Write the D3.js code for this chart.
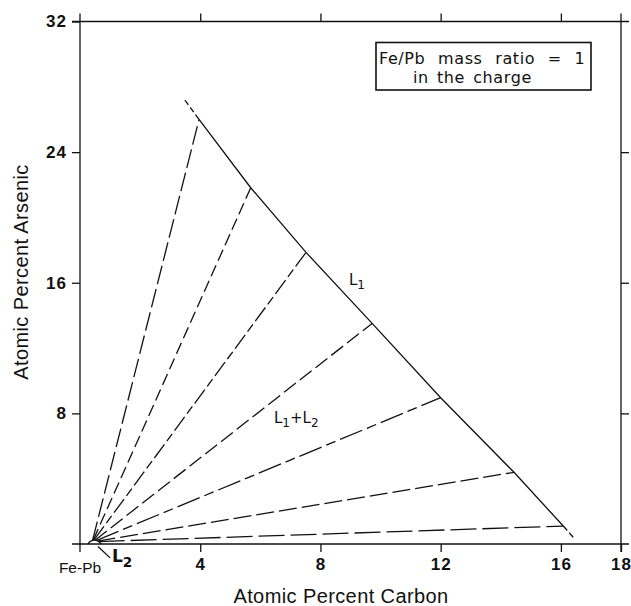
<!DOCTYPE html>
<meta charset="utf-8">
<script src="https://d3js.org/d3.v7.min.js"></script>
<style>
  body { margin: 0; background: #fff; }
  text { fill: #111; }
</style>
<div id="chart"></div>
<script>
  // L1 liquidus boundary (atomic % C, atomic % As)
  const liqCarbon = [3.49, 3.96, 5.68, 7.52, 9.72, 12.0, 14.44, 16.08, 16.41];
  const liqArsenic = [27.19, 26.0, 21.82, 17.86, 13.51, 8.96, 4.39, 1.10, 0.41];

  // small L2 region near the Fe-Pb corner
  const l2Carbon = [0.27, 0.32, 0.42, 0.55, 0.65, 0.71];
  const l2Arsenic = [0, 0.15, 0.24, 0.23, 0.13, 0];

  // tie lines: start on L2, end on L1 vertices
  const tieStartC = [0.42, 0.44, 0.46, 0.5, 0.54, 0.58, 0.62];
  const tieStartAs = [0.24, 0.24, 0.24, 0.23, 0.21, 0.18, 0.15];
  const tieEndC = [3.96, 5.68, 7.52, 9.72, 12.0, 14.44, 16.08];
  const tieEndAs = [26.0, 21.82, 17.86, 13.51, 8.96, 4.39, 1.10];
  const tieDash = ["19,5", "12,5", "17,4,9,4", "15,5", "24,5,10,5", "18,5", "26,6"];

  const xTicks = [4, 8, 12, 16, 18];
  const yTicks = [8, 16, 24, 32];

  const width = 631, height = 606;
  const margin = { left: 80, right: 10, top: 21.5, bottom: 62 };
  const x0 = margin.left, x1 = width - margin.right;
  const y0 = height - margin.bottom, y1 = margin.top;
  const ext = 8;
  const ink = "#111";
  const sans = "Liberation Sans, Arial, sans-serif";

  const x = d3.scaleLinear().domain([0, 18]).range([x0, x1]);
  const y = d3.scaleLinear().domain([0, 32]).range([y0, y1]);

  const svg = d3.select("#chart").append("svg")
    .attr("width", width)
    .attr("height", height);

  // frame lines, each running past the corners like the original
  const frame = svg.append("g").attr("stroke", ink).attr("stroke-width", 1.3);
  frame.append("line").attr("x1", x0 - ext).attr("x2", x1 + ext).attr("y1", y0).attr("y2", y0);
  frame.append("line").attr("x1", x0 - ext).attr("x2", x1 + ext).attr("y1", y1).attr("y2", y1);
  frame.append("line").attr("x1", x0).attr("x2", x0).attr("y1", y1 - ext).attr("y2", y0 + ext);
  frame.append("line").attr("x1", x1).attr("x2", x1).attr("y1", y1 - ext).attr("y2", y0 + ext);

  function styleAxis(g) {
    g.select(".domain").remove();
    g.selectAll(".tick line").attr("stroke", ink).attr("stroke-width", 1.3);
    g.selectAll(".tick text")
      .attr("font-family", sans)
      .attr("font-size", 17)
      .attr("font-weight", "bold")
      .attr("letter-spacing", 1)
      .attr("fill", ink);
  }

  svg.append("g")
    .attr("transform", `translate(0,${y0})`)
    .call(d3.axisBottom(x).tickValues(xTicks).tickSize(ext).tickPadding(6).tickFormat(d3.format("d")))
    .call(styleAxis);

  svg.append("g")
    .attr("transform", `translate(0,${y1})`)
    .call(d3.axisTop(x).tickValues(xTicks.slice(0, 4)).tickSize(ext).tickFormat(""))
    .call(styleAxis);

  svg.append("g")
    .attr("transform", `translate(${x0},0)`)
    .call(d3.axisLeft(y).tickValues(yTicks).tickSize(ext).tickPadding(5).tickFormat(d3.format("d")))
    .call(styleAxis);

  svg.append("g")
    .attr("transform", `translate(${x1},0)`)
    .call(d3.axisRight(y).tickValues(yTicks.slice(0, 3)).tickSize(ext).tickFormat(""))
    .call(styleAxis);

  svg.append("text")
    .attr("x", x(0))
    .attr("y", y0 + 29)
    .attr("text-anchor", "middle")
    .attr("font-family", sans)
    .attr("font-size", 15.5)
    .text("Fe-Pb");

  // axis titles
  svg.append("text")
    .attr("x", 341)
    .attr("y", 603)
    .attr("text-anchor", "middle")
    .attr("font-family", sans)
    .attr("font-size", 20)
    .attr("letter-spacing", 0.4)
    .text("Atomic Percent Carbon");

  svg.append("text")
    .attr("transform", "translate(28,272) rotate(-90)")
    .attr("text-anchor", "middle")
    .attr("font-family", sans)
    .attr("font-size", 20)
    .attr("letter-spacing", 0.4)
    .text("Atomic Percent Arsenic");

  const line = d3.line().x(d => x(d[0])).y(d => y(d[1]));
  const plot = svg.append("g").attr("fill", "none").attr("stroke", ink).attr("stroke-width", 1.3);

  // tie lines
  tieEndC.forEach((c, i) => {
    plot.append("path")
      .attr("d", line([[tieStartC[i], tieStartAs[i]], [c, tieEndAs[i]]]))
      .attr("stroke-dasharray", tieDash[i]);
  });

  // L1 boundary: dashed ends, solid middle
  const liq = liqCarbon.map((c, i) => [c, liqArsenic[i]]);
  const n = liq.length;
  plot.append("path").attr("d", line(liq.slice(1, n - 1)));
  plot.append("path").attr("d", line(liq.slice(0, 2))).attr("stroke-dasharray", "6,3");
  plot.append("path").attr("d", line(liq.slice(n - 2))).attr("stroke-dasharray", "6,3");

  // L2 region
  plot.append("path")
    .attr("d", d3.line().curve(d3.curveBasis).x(d => x(d[0])).y(d => y(d[1]))(l2Carbon.map((c, i) => [c, l2Arsenic[i]])));
  plot.append("line")
    .attr("x1", x(0.6)).attr("y1", y(-0.15))
    .attr("x2", x(1.0)).attr("y2", y(-0.85));

  function phaseLabel(px, py, parts, size, weight) {
    const t = svg.append("text")
      .attr("x", px).attr("y", py)
      .attr("font-family", "DejaVu Sans, sans-serif")
      .attr("font-size", size)
      .attr("font-weight", weight || "normal");
    parts.forEach(p => {
      const s = t.append("tspan").text(p.t);
      if (p.sub) s.attr("font-size", size * 0.8).attr("dy", size * 0.28);
      if (p.up) s.attr("dy", -size * 0.28);
    });
  }

  phaseLabel(349, 285, [{ t: "L" }, { t: "1", sub: true }], 15);
  phaseLabel(274, 423, [{ t: "L" }, { t: "1", sub: true }, { t: "+", up: true }, { t: "L" }, { t: "2", sub: true }], 15);
  phaseLabel(112, 562, [{ t: "L" }, { t: "2", sub: true }], 17, "bold");

  // note box
  svg.append("rect")
    .attr("x", 376).attr("y", 42.5)
    .attr("width", 215).attr("height", 47.5)
    .attr("fill", "none")
    .attr("stroke", ink)
    .attr("stroke-width", 1.6);

  svg.append("text")
    .attr("x", 379).attr("y", 64)
    .attr("font-family", "DejaVu Sans, sans-serif")
    .attr("font-size", 16)
    .attr("letter-spacing", 0.6)
    .attr("word-spacing", 7)
    .text("Fe/Pb mass ratio = 1");

  svg.append("text")
    .attr("x", 413).attr("y", 82.5)
    .attr("font-family", "DejaVu Sans, sans-serif")
    .attr("font-size", 16)
    .attr("letter-spacing", 0.6)
    .attr("word-spacing", 2.5)
    .text("in the charge");
</script>
